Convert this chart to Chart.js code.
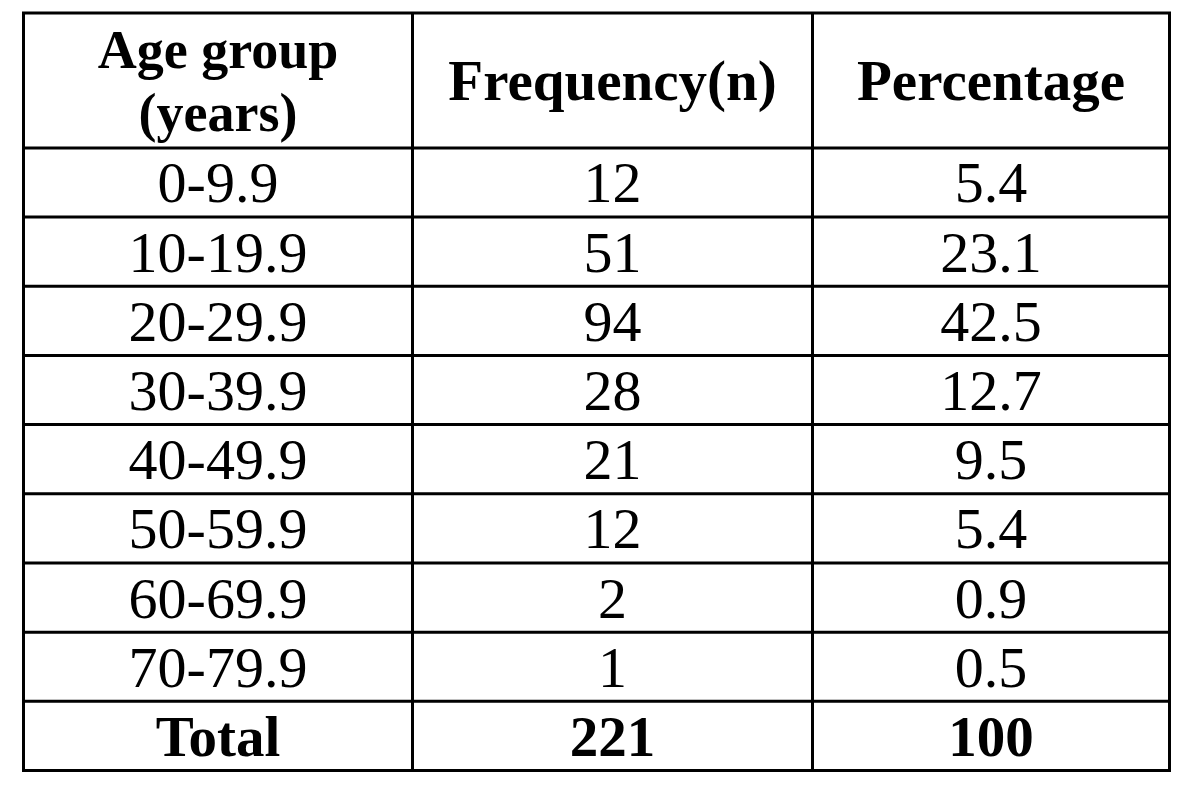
<!DOCTYPE html>
<html>
<head>
<meta charset="utf-8">
<script src="https://cdn.jsdelivr.net/npm/chart.js@4"></script>
<style>
  body { margin: 0; background: #fff; }
  canvas { display: block; }
</style>
</head>
<body>
<canvas id="chart" width="1200" height="789"></canvas>
<script>
// table contents
const headers = [["Age group", "(years)"], ["Frequency(n)"], ["Percentage"]];
const ageGroups = ["0-9.9", "10-19.9", "20-29.9", "30-39.9", "40-49.9", "50-59.9", "60-69.9", "70-79.9"];
const frequency = [12, 51, 94, 28, 21, 12, 2, 1];
const percentage = [5.4, 23.1, 42.5, 12.7, 9.5, 5.4, 0.9, 0.5];
const totalRow = ["Total", 221, 100];

// layout (scale units)
const colWidths = [389, 400, 357];
const headerHeight = 1.95;
const headerSizes = [54, 57, 57];
const serif = '"Liberation Serif", "Times New Roman", serif';

const colEdges = [0];
colWidths.forEach(w => colEdges.push(colEdges[colEdges.length - 1] + w));
const rowCount = ageGroups.length + 1;
const rowEdges = [0, headerHeight];
for (let i = 1; i <= rowCount; i++) rowEdges.push(headerHeight + i);

function fmtPct(v) {
  return Number.isInteger(v) && v >= 100 ? String(v) : v.toFixed(1);
}

const bodyRows = ageGroups.map((g, i) => [g, String(frequency[i]), fmtPct(percentage[i])]);
bodyRows.push(totalRow.map(String));

const tablePlugin = {
  id: "table",
  afterDraw(chart) {
    const ctx = chart.ctx;
    const x = chart.scales.x;
    const y = chart.scales.y;

    function cellText(lines, col, top, bottom, size, bold, gap) {
      const cx = x.getPixelForValue((colEdges[col] + colEdges[col + 1]) / 2);
      const cy = (y.getPixelForValue(top) + y.getPixelForValue(bottom)) / 2;
      ctx.font = (bold ? "bold " : "") + size + "px " + serif;
      ctx.textAlign = "center";
      ctx.textBaseline = "alphabetic";
      lines.forEach((t, i) => {
        const by = cy + size * 0.345 + (i - (lines.length - 1) / 2) * gap;
        ctx.fillText(t, cx, by);
      });
    }

    ctx.save();
    ctx.fillStyle = "#000";

    headers.forEach((h, c) => cellText(h, c, rowEdges[0], rowEdges[1], headerSizes[c], true, 63));
    bodyRows.forEach((row, r) => {
      const isTotal = r === bodyRows.length - 1;
      row.forEach((t, c) => cellText([t], c, rowEdges[r + 1], rowEdges[r + 2], isTotal ? 57 : 58, isTotal, 0));
    });

    // grid lines
    ctx.strokeStyle = "#000";
    ctx.lineWidth = 3;
    const left = x.getPixelForValue(colEdges[0]);
    const right = x.getPixelForValue(colEdges[colEdges.length - 1]);
    const top = y.getPixelForValue(rowEdges[0]);
    const bottom = y.getPixelForValue(rowEdges[rowEdges.length - 1]);
    ctx.beginPath();
    rowEdges.forEach(v => {
      const py = y.getPixelForValue(v);
      ctx.moveTo(left - 1.5, py);
      ctx.lineTo(right + 1.5, py);
    });
    colEdges.forEach(v => {
      const px = x.getPixelForValue(v);
      ctx.moveTo(px, top - 1.5);
      ctx.lineTo(px, bottom + 1.5);
    });
    ctx.stroke();
    ctx.restore();
  }
};

const chart = new Chart(document.getElementById("chart"), {
  type: "scatter",
  data: { datasets: [{ data: [] }] },
  options: {
    responsive: false,
    animation: false,
    layout: { padding: { left: 23.5, top: 13, right: 30.5, bottom: 18.5 } },
    plugins: { legend: { display: false }, tooltip: { enabled: false } },
    scales: {
      x: { type: "linear", display: false, min: colEdges[0], max: colEdges[colEdges.length - 1] },
      y: { type: "linear", display: false, reverse: true, min: 0, max: rowEdges[rowEdges.length - 1] }
    }
  },
  plugins: [tablePlugin]
});
</script>
</body>
</html>
